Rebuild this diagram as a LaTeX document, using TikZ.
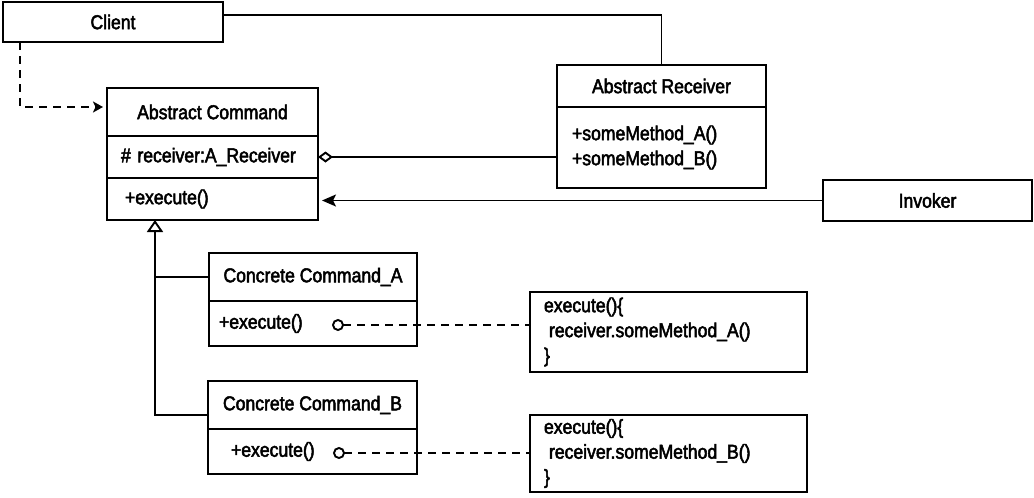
\documentclass[tikz,border=0pt]{standalone}
\usepackage{fontspec}
\setmainfont{Liberation Sans}[FakeStretch=0.88,FakeBold=2.5]
\usetikzlibrary{arrows.meta}
\begin{document}
\begin{tikzpicture}[x=1pt,y=-1pt,
  font=\fontsize{20}{25}\selectfont,
  box/.style={draw,line width=2.2pt,anchor=north west,inner sep=0pt,outer sep=0pt},
  conn/.style={line width=1.9pt},
  dashconn/.style={line width=1.9pt,dash pattern=on 8pt off 6pt},
  lollipop/.style={circle,draw,line width=1.9pt,fill=white,minimum size=10pt,inner sep=0pt,outer sep=0pt},
]
\useasboundingbox (0,0) rectangle (1034,498);

% Client
\node[box,minimum width=220pt,minimum height=40pt] (client) at (3,2) {Client};

% Abstract Command
\node[box,minimum width=211pt,minimum height=48pt] (acT) at (107,88) {Abstract Command};
\node[box,minimum width=211pt,minimum height=42pt,text width=183pt,inner xsep=14pt,align=left] (acA) at (107,136) {\# receiver:A\_Receiver};
\node[box,minimum width=211pt,minimum height=42pt,text width=175pt,inner xsep=18pt,align=left] (acE) at (107,178) {+execute()};

% Abstract Receiver
\node[box,minimum width=209pt,minimum height=42pt] (arT) at (557,65) {Abstract Receiver};
\node[box,minimum width=209pt,minimum height=81pt,text width=179pt,inner xsep=15pt,align=left] (arM) at (557,107) {+someMethod\_A()\\+someMethod\_B()};

% Invoker
\node[box,minimum width=209pt,minimum height=41pt] (inv) at (823,180) {Invoker};

% Concrete Command A
\node[box,minimum width=208pt,minimum height=48pt] (ccAT) at (209,253) {Concrete Command\_A};
\node[box,minimum width=208pt,minimum height=45pt,text width=188pt,inner xsep=10pt,align=left] (ccAE) at (209,301) {+execute()};

% Concrete Command B
\node[box,minimum width=209pt,minimum height=48pt] (ccBT) at (208,381) {Concrete Command\_B};
\node[box,minimum width=209pt,minimum height=45pt,text width=163pt,inner xsep=23pt,align=left] (ccBE) at (208,429) {+execute()};

% Notes
\node[box,minimum width=277pt,minimum height=80pt,text width=249pt,inner xsep=14pt,align=left] (noteA) at (530,292) {execute()\{\\\hspace*{5pt}receiver.someMethod\_A()\\\}};
\node[box,minimum width=277pt,minimum height=77pt,text width=249pt,inner xsep=14pt,align=left] (noteB) at (530,415) {execute()\{\\\hspace*{5pt}receiver.someMethod\_B()\\\}};

% Connectors
\draw[conn] ([yshift=7pt]client.east) -| (arT.north);
\draw[dashconn,-{Stealth[length=10pt,width=11pt,inset=2.5pt]}] ([xshift=17pt]client.south west) |- ([xshift=-4pt,yshift=5pt]acT.west);
\draw[conn,{Diamond[open,length=15pt,width=11pt]}-] (acA.east) -- (acA.east -| arM.west);
\draw[conn,-{Stealth[length=14pt,width=12pt,inset=3pt]}] (inv.west) -- ([xshift=4pt]acE.east |- inv.west);

\coordinate (inh) at ([xshift=48pt]acE.south west);
\draw[conn,-{Triangle[open,length=12pt,width=16pt]}] ([yshift=-10pt]ccBT.west) -| (inh);
\draw[conn] (ccAT.west) -- (ccAT.west -| inh);

\node[lollipop] (cA) at (338,325) {};
\node[lollipop] (cB) at (339,453) {};
\draw[dashconn] (cA.east) -- (cA.east -| noteA.west);
\draw[dashconn] (cB.east) -- (cB.east -| noteB.west);
\end{tikzpicture}
\end{document}
